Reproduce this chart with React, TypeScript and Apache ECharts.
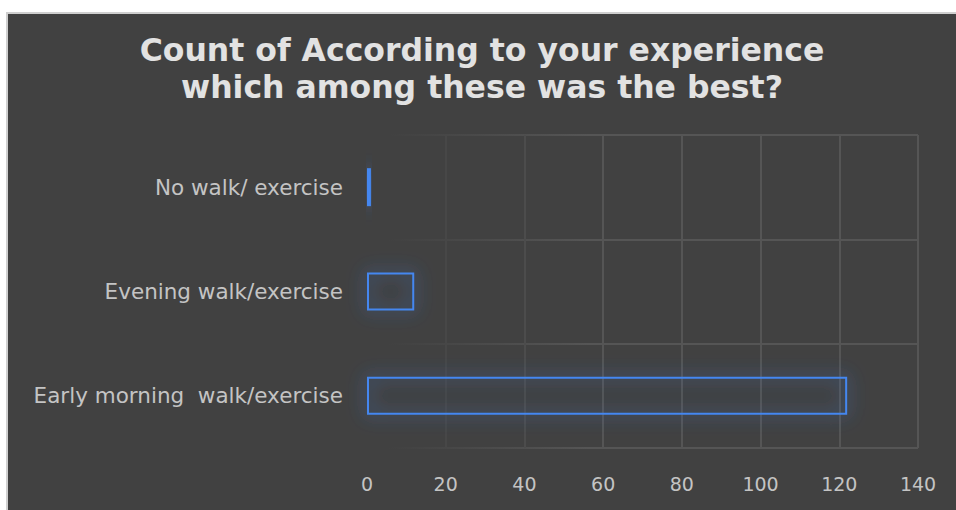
import React, { useEffect, useRef } from "react";
import * as echarts from "echarts";

const categories = ["Early morning  walk/exercise", "Evening walk/exercise", "No walk/ exercise"];
const counts = [122, 12, 1];
const xTicks = [0, 20, 40, 60, 80, 100, 120, 140];

export default function App() {
  const ref = useRef<HTMLDivElement>(null);
  useEffect(() => {
    if (!ref.current) return;
    const chart = echarts.init(ref.current, undefined, { renderer: "svg" });
    chart.setOption({
      animation: false,
      backgroundColor: "#414141",
      textStyle: { fontFamily: "DejaVu Sans, sans-serif" },
      title: {
        text: "Count of According to your experience\nwhich among these was the best?",
        left: "center",
        top: 12,
        textStyle: {
          color: "#e2e2e2",
          fontSize: 31.5,
          fontWeight: "bold",
          lineHeight: 37,
          fontFamily: "DejaVu Sans, sans-serif",
        },
      },
      grid: { left: 359, right: 38, top: 121, bottom: 62, containLabel: false },
      xAxis: {
        type: "value",
        min: xTicks[0],
        max: xTicks[xTicks.length - 1],
        interval: 20,
        axisLine: { show: false },
        axisTick: { show: false },
        axisLabel: { color: "#c4c4c4", fontSize: 19, margin: 26, fontFamily: "DejaVu Sans, sans-serif" },
        splitLine: {
          show: true,
          lineStyle: {
            width: 2,
            color: ["rgba(0,0,0,0)", "#474747", "#4c4c4c", "#555555", "#555555", "#555555", "#555555", "#555555"],
          },
        },
      },
      yAxis: {
        type: "category",
        data: categories,
        axisLine: { show: false },
        axisTick: { show: false },
        axisLabel: { color: "#c4c4c4", fontSize: 21.5, margin: 24, fontFamily: "DejaVu Sans, sans-serif" },
        splitLine: {
          show: true,
          lineStyle: {
            width: 2,
            color: {
              type: "linear",
              global: true,
              x: 380,
              y: 0,
              x2: 580,
              y2: 0,
              colorStops: [
                { offset: 0, color: "rgba(85,85,85,0)" },
                { offset: 1, color: "rgba(85,85,85,1)" },
              ],
            },
          },
        },
      },
      series: [
        {
          type: "bar",
          data: counts,
          barWidth: 38,
          itemStyle: {
            color: "rgba(0,0,0,0)",
            borderColor: "#4487f0",
            borderWidth: 2,
            shadowBlur: 18,
            shadowColor: "rgba(60,130,245,0.95)",
          },
        },
      ],
    });
    return () => chart.dispose();
  }, []);
  return (
    <div style={{ position: "fixed", left: 0, top: 0, width: 956, height: 510, background: "#ffffff", overflow: "hidden" }}>
      <div
        style={{
          position: "absolute",
          left: 6,
          top: 12,
          width: 950,
          height: 498,
          background: "#414141",
          borderTop: "2px solid #cfcfcf",
          borderLeft: "2px solid #cfcfcf",
          boxSizing: "border-box",
        }}
      >
        <div ref={ref} style={{ width: 948, height: 496 }} />
      </div>
    </div>
  );
}
